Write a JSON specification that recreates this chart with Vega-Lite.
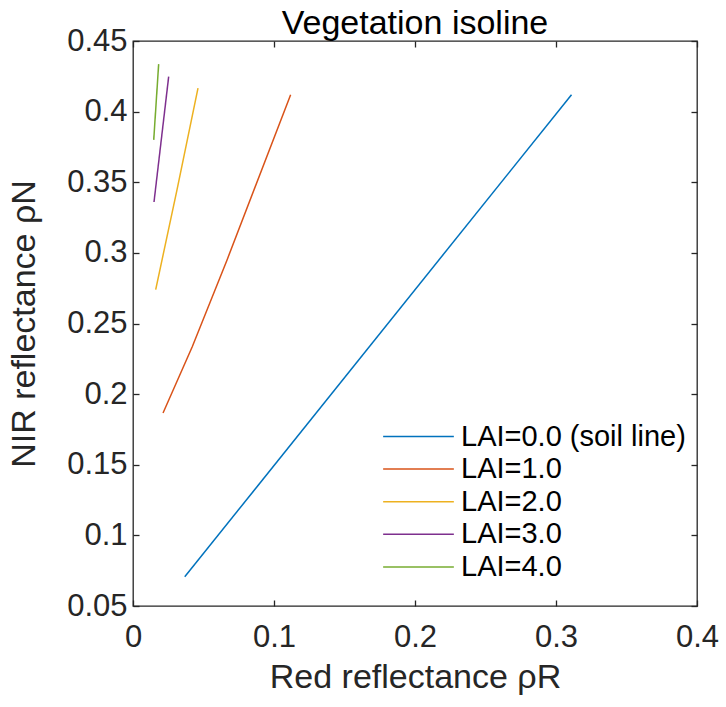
{
  "$schema": "https://vega.github.io/schema/vega-lite/v6.json",
  "width": 564,
  "height": 565,
  "autosize": "none",
  "padding": {"left": 133, "top": 41, "right": 29, "bottom": 101},
  "background": "white",
  "config": {
    "font": "Liberation Sans",
    "view": {"stroke": "#262626", "strokeWidth": 1.3},
    "axis": {
      "domain": false,
      "grid": false,
      "tickColor": "#262626",
      "tickWidth": 1.3,
      "tickSize": -6,
      "labelColor": "#262626",
      "labelFontSize": 31,
      "labelFont": "Liberation Sans",
      "titleFont": "Liberation Sans",
      "titleFontSize": 34,
      "titleFontWeight": "normal",
      "titleColor": "#262626"
    }
  },
  "title": {
    "text": "Vegetation isoline",
    "fontSize": 34,
    "fontWeight": "normal",
    "font": "Liberation Sans",
    "color": "#000000",
    "anchor": "middle",
    "baseline": "alphabetic",
    "offset": -43
  },
  "data": {
    "values": [
      {"series": "LAI=0.0 (soil line)", "x": 0.0367, "y": 0.0707},
      {"series": "LAI=0.0 (soil line)", "x": 0.311, "y": 0.412},
      {"series": "LAI=1.0", "x": 0.0213, "y": 0.1866},
      {"series": "LAI=1.0", "x": 0.0421, "y": 0.2337},
      {"series": "LAI=1.0", "x": 0.0667, "y": 0.295},
      {"series": "LAI=1.0", "x": 0.1118, "y": 0.412},
      {"series": "LAI=2.0", "x": 0.0161, "y": 0.274},
      {"series": "LAI=2.0", "x": 0.0312, "y": 0.3446},
      {"series": "LAI=2.0", "x": 0.0461, "y": 0.4166},
      {"series": "LAI=3.0", "x": 0.0149, "y": 0.336},
      {"series": "LAI=3.0", "x": 0.0253, "y": 0.4248},
      {"series": "LAI=4.0", "x": 0.0147, "y": 0.38},
      {"series": "LAI=4.0", "x": 0.0182, "y": 0.4336}
    ]
  },
  "resolve": {"axis": {"x": "independent", "y": "independent"}},
  "layer": [
    {
      "mark": {"type": "line", "strokeWidth": 1.5, "clip": true},
      "encoding": {
        "x": {
          "field": "x",
          "type": "quantitative",
          "scale": {"domain": [0, 0.4], "nice": false, "zero": false},
          "axis": {
            "orient": "bottom",
            "values": [0, 0.1, 0.2, 0.3, 0.4],
            "format": "~g",
            "labelPadding": 22,
            "labelFlush": false,
            "title": "Red reflectance ρR",
            "titlePadding": 8
          }
        },
        "y": {
          "field": "y",
          "type": "quantitative",
          "scale": {"domain": [0.05, 0.45], "nice": false, "zero": false},
          "axis": {
            "orient": "left",
            "values": [0.05, 0.1, 0.15, 0.2, 0.25, 0.3, 0.35, 0.4, 0.45],
            "format": "~g",
            "labelPadding": 12,
            "labelFlush": false,
            "title": "NIR reflectance ρN",
            "titlePadding": 25
          }
        },
        "color": {
          "field": "series",
          "type": "nominal",
          "scale": {
            "domain": ["LAI=0.0 (soil line)", "LAI=1.0", "LAI=2.0", "LAI=3.0", "LAI=4.0"],
            "range": ["#0072BD", "#D95319", "#EDB120", "#7E2F8E", "#77AC30"]
          },
          "legend": {
            "title": null,
            "orient": "none",
            "legendX": 271,
            "legendY": 381,
            "symbolType": "M-5,0L5,0",
            "symbolSize": 200,
            "symbolStrokeWidth": 1.5,
            "labelFontSize": 29,
            "labelFont": "Liberation Sans",
            "labelColor": "#000000",
            "labelOffset": 28,
            "rowPadding": 2.6,
            "padding": 0,
            "labelLimit": 400
          }
        }
      }
    },
    {
      "mark": {"type": "point", "opacity": 0},
      "encoding": {
        "x": {
          "field": "x",
          "type": "quantitative",
          "axis": {
            "orient": "top",
            "values": [0, 0.1, 0.2, 0.3, 0.4],
            "labels": false,
            "title": null
          }
        },
        "y": {
          "field": "y",
          "type": "quantitative",
          "axis": {
            "orient": "right",
            "values": [0.05, 0.1, 0.15, 0.2, 0.25, 0.3, 0.35, 0.4, 0.45],
            "labels": false,
            "title": null
          }
        }
      }
    }
  ]
}
